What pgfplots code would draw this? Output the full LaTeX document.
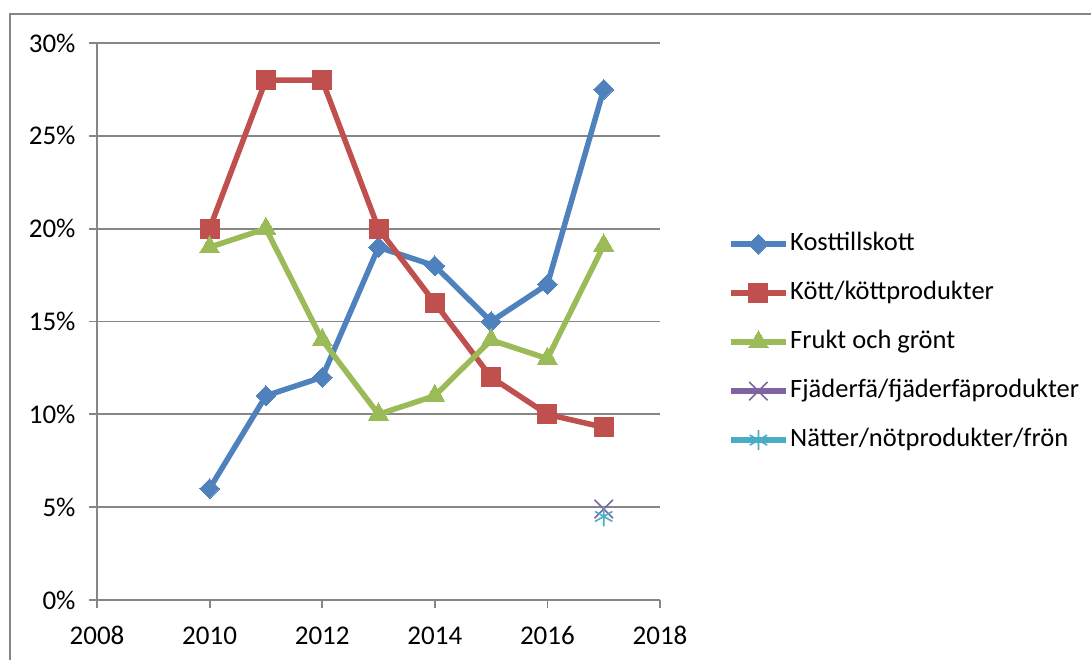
\documentclass[border=0pt]{standalone}
\usepackage{fontspec}
\setmainfont{Carlito}
\usepackage{pgfplots}
\pgfplotsset{compat=1.18}
\definecolor{cblue}{HTML}{4F81BD}
\definecolor{cred}{HTML}{C0504D}
\definecolor{cgreen}{HTML}{9BBB59}
\definecolor{cpurple}{HTML}{8064A2}
\definecolor{ccyan}{HTML}{4BACC6}
\definecolor{gridgray}{HTML}{868686}
\begin{document}
\begin{tikzpicture}
\path[use as bounding box] (0pt,0pt) rectangle (1091pt,659pt);
\draw[gridgray, line width=1.4pt] (10pt,-5pt) -- (10pt,645pt) -- (1100pt,645pt);
\begin{axis}[
  at={(97pt,59pt)}, anchor=south west,
  scale only axis, width=563pt, height=557pt,
  xmin=2008, xmax=2018, ymin=0, ymax=30,
  xtick={2008,2010,...,2018}, ytick={0,5,...,30},
  axis x line*=bottom, axis y line*=left,
  axis line style={gridgray, line width=1.8pt, -},
  tick align=outside, major tick length=8pt,
  tick style={gridgray, line width=1.8pt},
  ymajorgrids, grid style={gridgray, line width=1.8pt},
  /pgf/number format/assume math mode=true,
  /pgf/number format/1000 sep={},
  ticklabel style={font=\fontsize{27pt}{30pt}\selectfont, text=black},
  yticklabel style={xshift=-10pt},
  xticklabel style={yshift=-15pt},
  yticklabel={\pgfmathprintnumber{\tick}\%},
  clip=false,
  legend style={draw=none, fill=none, at={(1.1208,0.463)}, anchor=west,
    inner sep=0pt, row sep=21pt,
    font=\fontsize{26.5pt}{30pt}\selectfont,
    nodes={inner sep=1.5pt, text height=19pt, text depth=6pt, anchor=west}},
  legend cell align=left,
  legend image code/.code={\draw[mark repeat=2,mark phase=2,#1] plot coordinates {(0pt,0pt) (27.5pt,0pt) (55pt,0pt)};},
]
\addplot[cblue, line width=5.5pt, mark=square*, mark options={solid, rotate=45, mark size=7pt, line width=0pt}]
  coordinates {(2010,6) (2011,11) (2012,12) (2013,19) (2014,18) (2015,15) (2016,17) (2017,27.5)};
\addlegendentry{Kosttillskott}
\addplot[cred, line width=5.5pt, mark=square*, mark options={solid, mark size=9.5pt, line width=0pt}]
  coordinates {(2010,20) (2011,28) (2012,28) (2013,20) (2014,16) (2015,12) (2016,10) (2017,9.3)};
\addlegendentry{Kött/köttprodukter}
\addplot[cgreen, line width=5.5pt, mark=triangle*, mark options={solid, mark size=11.5pt, line width=0pt}]
  coordinates {(2010,19) (2011,20) (2012,14) (2013,10) (2014,11) (2015,14) (2016,13) (2017,19.1)};
\addlegendentry{Frukt och grönt}
\addplot[cpurple, line width=5.5pt, mark=x, mark options={solid, mark size=13pt, line width=1.6pt}]
  coordinates {(2017,4.9)};
\addlegendentry{Fjäderfä/fjäderfäprodukter}
\addplot[ccyan, line width=5.5pt, mark=asterisk, mark options={solid, mark size=10pt, line width=1.6pt}]
  coordinates {(2017,4.5)};
\addlegendentry{Nätter/nötprodukter/frön}
\end{axis}
\end{tikzpicture}
\end{document}
